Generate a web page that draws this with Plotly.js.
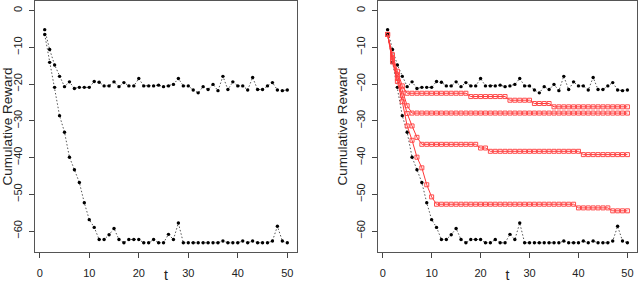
<!DOCTYPE html>
<html>
<head>
<meta charset="utf-8">
<script src="https://cdn.plot.ly/plotly-3.0.1.min.js"></script>
<style>html,body{margin:0;padding:0;background:#fff;}#chart{width:640px;height:283px;}</style>
</head>
<body>
<div id="chart"></div>
<script>
var t = [1,2,3,4,5,6,7,8,9,10,11,12,13,14,15,16,17,18,19,20,21,22,23,24,25,26,27,28,29,30,31,32,33,34,35,36,37,38,39,40,41,42,43,44,45,46,47,48,49,50];

var blackUpper = [-5.2,-10.6,-14.8,-17.9,-20.7,-19.4,-21.2,-20.9,-20.9,-20.9,
  -19.3,-19.5,-20.5,-20.5,-19.4,-20.7,-19.6,-20.5,-20.5,-18.5,
  -20.5,-20.5,-20.5,-20.3,-20.7,-20.5,-20.1,-18.5,-20.5,-20.5,
  -21.6,-22.4,-20.7,-21.5,-20.1,-21.8,-17.9,-21.5,-19.4,-20.5,
  -20.5,-21.6,-18.2,-21.5,-21.5,-20.5,-19.6,-21.6,-21.8,-21.6];

var blackLower = [-6.5,-14.1,-20.9,-28.6,-33.1,-39.9,-43.3,-46.8,-52.3,-56.9,
  -59.0,-62.3,-62.3,-61.0,-59.3,-62.3,-63.2,-62.3,-62.3,-62.3,
  -63.2,-63.2,-62.3,-63.2,-63.2,-60.9,-62.3,-57.8,-63.2,-63.2,
  -63.2,-63.2,-63.2,-63.2,-63.2,-63.2,-62.7,-63.2,-63.2,-63.2,
  -62.7,-63.2,-62.7,-63.2,-63.2,-63.2,-62.7,-58.7,-62.7,-63.2];

var redA = [-6.5,-12.0,-16.5,-20.5,-22.5,-22.5,-22.5,-22.5,-22.5,-22.5,
  -22.5,-22.5,-22.5,-22.5,-22.5,-22.5,-22.5,-23.4,-23.4,-23.4,
  -23.4,-23.4,-23.4,-23.4,-23.4,-24.4,-24.4,-24.4,-24.4,-24.4,
  -25.3,-25.3,-25.3,-25.3,-26.2,-26.2,-26.2,-26.2,-26.2,-26.2,
  -26.2,-26.2,-26.2,-26.2,-26.2,-26.2,-26.2,-26.2,-26.2,-26.2];

var redB = [-6.5,-12.8,-17.5,-21.6,-25.9,-27.9,-27.9,-27.9,-27.9,-27.9,
  -27.9,-27.9,-27.9,-27.9,-27.9,-27.9,-27.9,-27.9,-27.9,-27.9,
  -27.9,-27.9,-27.9,-27.9,-27.9,-27.9,-27.9,-27.9,-27.9,-27.9,
  -27.9,-27.9,-27.9,-27.9,-27.9,-27.9,-27.9,-27.9,-27.9,-27.9,
  -27.9,-27.9,-27.9,-27.9,-27.9,-27.9,-27.9,-27.9,-27.9,-27.9];

var redC = [-6.5,-13.5,-18.5,-23.2,-28.0,-31.4,-34.5,-36.4,-36.4,-36.4,
  -36.4,-36.4,-36.4,-36.4,-36.4,-36.4,-36.4,-36.4,-36.4,-37.4,
  -37.4,-38.3,-38.3,-38.3,-38.3,-38.3,-38.3,-38.3,-38.3,-38.3,
  -38.3,-38.3,-38.3,-38.3,-38.3,-38.3,-38.3,-38.3,-38.3,-38.3,
  -39.2,-39.2,-39.2,-39.2,-39.2,-39.2,-39.2,-39.2,-39.2,-39.2];

var redD = [-6.5,-14.0,-19.3,-24.8,-31.4,-35.3,-39.9,-42.8,-47.4,-50.7,
  -52.7,-52.7,-52.7,-52.7,-52.7,-52.7,-52.7,-52.7,-52.7,-52.7,
  -52.7,-52.7,-52.7,-52.7,-52.7,-52.7,-52.7,-52.7,-52.7,-52.7,
  -52.7,-52.7,-52.7,-52.7,-52.7,-52.7,-52.7,-52.7,-52.7,-53.7,
  -53.7,-53.7,-53.7,-53.7,-53.7,-53.7,-54.5,-54.5,-54.5,-54.5];

var xTicks = [0,10,20,30,40,50];
var yTicks = [0,-10,-20,-30,-40,-50,-60];

var FONT = '"Liberation Sans", Arial, Helvetica, sans-serif';

function blackTrace(y, xa, ya) {
  return {x: t, y: y, xaxis: xa, yaxis: ya, type: 'scatter', mode: 'lines+markers',
    line: {color: '#555', width: 1, dash: '1.5px,2px'},
    marker: {color: '#000', size: 3.4, symbol: 'circle'},
    showlegend: false, hoverinfo: 'skip'};
}
function redTrace(y) {
  return {x: t, y: y, xaxis: 'x2', yaxis: 'y2', type: 'scatter', mode: 'lines+markers',
    line: {color: '#ff3838', width: 1},
    marker: {color: '#ff4a4a', size: 4, symbol: 'square-open', line: {color: '#ff4a4a', width: 1}},
    showlegend: false, hoverinfo: 'skip'};
}

var data = [
  blackTrace(blackUpper, 'x', 'y'),
  blackTrace(blackLower, 'x', 'y'),
  blackTrace(blackUpper, 'x2', 'y2'),
  blackTrace(blackLower, 'x2', 'y2'),
  redTrace(redA), redTrace(redB), redTrace(redC), redTrace(redD)
];

function xAxis(domain, anchor) {
  return {domain: domain, anchor: anchor, range: [-0.96, 51.96], tickvals: xTicks,
    ticks: 'outside', ticklen: 5, tickcolor: '#444', tickwidth: 1, ticklabelstandoff: 6,
    showline: true, mirror: true, linecolor: '#555', linewidth: 1,
    showgrid: false, zeroline: false,
    tickfont: {family: FONT, size: 11, color: '#222'},
    title: {text: 't', font: {family: FONT, size: 14, color: '#222'}, standoff: 0}};
}
function yAxis(anchor) {
  return {domain: [0, 1], anchor: anchor, range: [-65.7, 2.6], tickvals: yTicks,
    ticks: 'outside', ticklen: 5, tickcolor: '#444', tickwidth: 1, tickangle: -90, ticklabelstandoff: 3,
    showline: true, mirror: true, linecolor: '#555', linewidth: 1,
    showgrid: false, zeroline: false,
    tickfont: {family: FONT, size: 11, color: '#222'},
    title: {text: 'Cumulative Reward', font: {family: FONT, size: 13.5, color: '#222'}, standoff: 3}};
}

var layout = {
  width: 640, height: 283,
  margin: {l: 0, r: 0, t: 1, b: 31, pad: 0},
  paper_bgcolor: '#fff', plot_bgcolor: '#fff',
  showlegend: false,
  xaxis: xAxis([35/640, 297/640], 'y'),
  yaxis: yAxis('x'),
  xaxis2: xAxis([378/640, 637/640], 'y2'),
  yaxis2: yAxis('x2')
};

Plotly.newPlot('chart', data, layout, {displayModeBar: false, staticPlot: true});
</script>
</body>
</html>
